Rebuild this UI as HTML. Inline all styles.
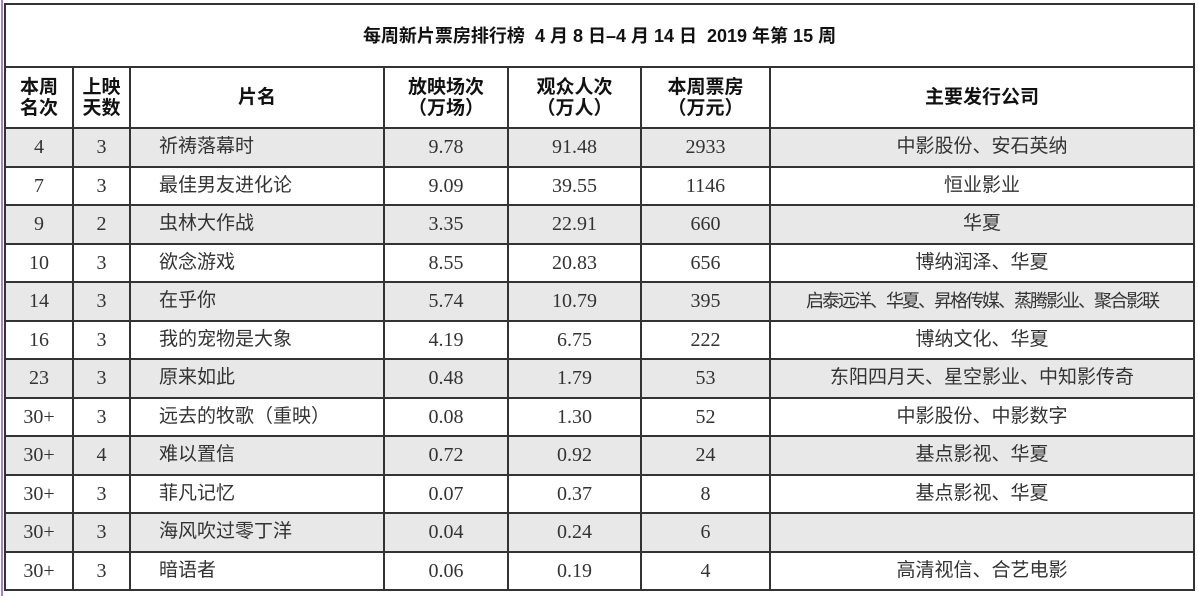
<!DOCTYPE html>
<html><head><meta charset="utf-8"><style>
body{margin:0;width:1198px;height:596px;background:#fff;overflow:hidden;position:relative}
.pl{position:absolute;left:1px;top:0;width:2px;height:596px;background:#b07cd0}
table{position:absolute;left:4px;top:3px;border-collapse:collapse;width:1189px;table-layout:fixed;font-family:"Liberation Serif","Noto Sans CJK SC",serif;color:#333;font-size:20px}
td{border:2px solid #333;text-align:center;padding:0;height:36.5px;line-height:20px}
.t td{height:61px;font-family:"Liberation Sans","Noto Sans CJK SC",sans-serif;font-weight:bold;color:#111;font-size:18px}
.h td{height:59px;font-family:"Liberation Sans","Noto Sans CJK SC",sans-serif;font-weight:bold;color:#111;font-size:19px;line-height:21px}
.g td{background:#e8e8e8}
td.n{text-align:left;padding-left:28px;font-family:"Liberation Sans","Noto Sans CJK SC",sans-serif;font-size:19px}
td.c{font-family:"Liberation Sans","Noto Sans CJK SC",sans-serif;font-size:19px}
</style></head><body><div class="pl"></div>
<table>
<colgroup><col style="width:68px"><col style="width:57px"><col style="width:254px"><col style="width:124px"><col style="width:133px"><col style="width:129px"><col style="width:424px"></colgroup>
<tr class="t"><td colspan="7">每周新片票房排行榜&nbsp; 4 月 8 日–4 月 14 日&nbsp; 2019 年第 15 周</td></tr>
<tr class="h"><td>本周<br>名次</td><td>上映<br>天数</td><td>片名</td><td>放映场次<br>（万场）</td><td>观众人次<br>（万人）</td><td>本周票房<br>（万元）</td><td>主要发行公司</td></tr>
<tr class="g"><td>4</td><td>3</td><td class="n">祈祷落幕时</td><td>9.78</td><td>91.48</td><td>2933</td><td class="c">中影股份、安石英纳</td></tr>
<tr><td>7</td><td>3</td><td class="n">最佳男友进化论</td><td>9.09</td><td>39.55</td><td>1146</td><td class="c">恒业影业</td></tr>
<tr class="g"><td>9</td><td>2</td><td class="n">虫林大作战</td><td>3.35</td><td>22.91</td><td>660</td><td class="c">华夏</td></tr>
<tr><td>10</td><td>3</td><td class="n">欲念游戏</td><td>8.55</td><td>20.83</td><td>656</td><td class="c">博纳润泽、华夏</td></tr>
<tr class="g"><td>14</td><td>3</td><td class="n">在乎你</td><td>5.74</td><td>10.79</td><td>395</td><td class="c" style="letter-spacing:-2px;font-size:18px">启泰远洋、华夏、昇格传媒、蒸腾影业、聚合影联</td></tr>
<tr><td>16</td><td>3</td><td class="n">我的宠物是大象</td><td>4.19</td><td>6.75</td><td>222</td><td class="c">博纳文化、华夏</td></tr>
<tr class="g"><td>23</td><td>3</td><td class="n">原来如此</td><td>0.48</td><td>1.79</td><td>53</td><td class="c">东阳四月天、星空影业、中知影传奇</td></tr>
<tr><td>30+</td><td>3</td><td class="n">远去的牧歌（重映）</td><td>0.08</td><td>1.30</td><td>52</td><td class="c">中影股份、中影数字</td></tr>
<tr class="g"><td>30+</td><td>4</td><td class="n">难以置信</td><td>0.72</td><td>0.92</td><td>24</td><td class="c">基点影视、华夏</td></tr>
<tr><td>30+</td><td>3</td><td class="n">菲凡记忆</td><td>0.07</td><td>0.37</td><td>8</td><td class="c">基点影视、华夏</td></tr>
<tr class="g"><td>30+</td><td>3</td><td class="n">海风吹过零丁洋</td><td>0.04</td><td>0.24</td><td>6</td><td class="c"></td></tr>
<tr><td>30+</td><td>3</td><td class="n">暗语者</td><td>0.06</td><td>0.19</td><td>4</td><td class="c">高清视信、合艺电影</td></tr>
</table></body></html>
